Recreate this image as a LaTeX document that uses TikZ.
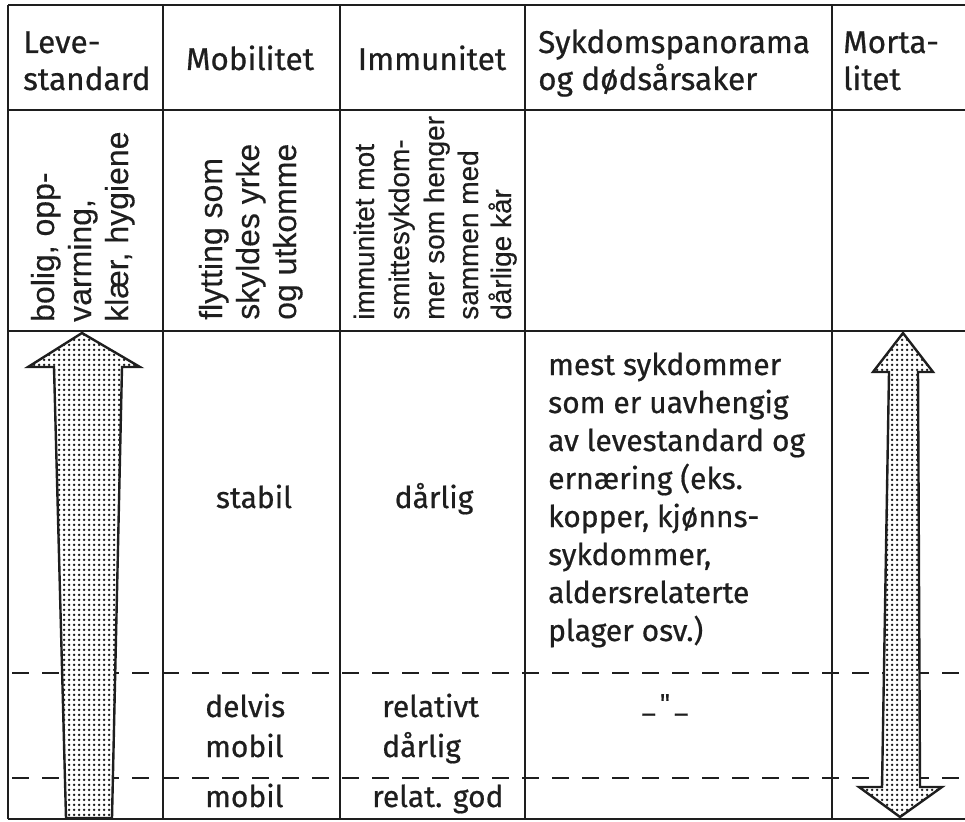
\documentclass[tikz,border=0pt]{standalone}
\usepackage{fontspec}
\setmainfont{Fira Sans}[FakeBold=0.6]
\newfontfamily\rotfont{Liberation Sans}[FakeBold=0.3]
\usetikzlibrary{patterns}
\pgfdeclarepatternformonly{stipple}{\pgfpointorigin}{\pgfpoint{4.6pt}{4.6pt}}{\pgfpoint{4.6pt}{4.6pt}}{\pgfpathcircle{\pgfpoint{2.3pt}{2.3pt}}{1.4pt}\pgfusepath{fill}}
\definecolor{ink}{HTML}{1E1E1E}
\tikzset{
  grid/.style={line width=1.6pt, draw=ink},
  heavy/.style={line width=2.6pt, draw=ink},
  dashline/.style={line width=1.6pt, draw=ink, dash pattern=on 17pt off 13pt},
  bigarrow/.style={line width=2.4pt, draw=ink, line join=miter, preaction={fill=white}, pattern=stipple, pattern color=ink},
  hd/.style={inner sep=0pt, text=ink, font=\fontsize{31.5}{37}\selectfont},
  bd/.style={inner sep=0pt, text=ink, font=\fontsize{30}{38}\selectfont},
  rt/.style={inner sep=0pt, text=ink, rotate=90, anchor=base west, font=\rotfont\fontsize{32}{37}\selectfont},
  rts/.style={inner sep=0pt, text=ink, rotate=90, anchor=base west, font=\rotfont\fontsize{28}{34}\selectfont},
}
\begin{document}
\begin{tikzpicture}[x=1pt,y=1pt]
\useasboundingbox (0,0) rectangle (965,-821);

% grid
\draw[heavy] (8,-5) -- (965,-5);
\draw[grid] (8,-110) -- (965,-110);
\draw[grid] (8,-331) -- (965,-331);
\draw[heavy] (8,-819) -- (965,-819);
\foreach \x in {8,163,340,525,832} \draw[grid] (\x,-5) -- (\x,-819);
\draw[dashline] (12,-673) -- (965,-673);
\draw[dashline] (12,-778) -- (965,-778);

% arrows
\draw[bigarrow] (82,-333) -- (140,-367) -- (122,-367) -- (112,-818) -- (66,-818) -- (54,-367) -- (28,-367) -- cycle;
\draw[bigarrow] (903,-333) -- (933,-372) -- (918,-372) -- (920,-787) -- (942,-787) -- (900,-817) -- (859,-787) -- (882,-787) -- (889,-372) -- (873,-372) -- cycle;

% header
\node[hd, anchor=base west] (h1a) at (23,-53) {Leve-};
\node[hd, anchor=base west] (h1b) at (23,-90) {standard};
\node[hd, anchor=base] (h2) at (250,-70) {Mobilitet};
\node[hd, anchor=base] (h3) at (432,-70) {Immunitet};
\node[hd, anchor=base west] (h4a) at (538,-53) {Sykdomspanorama};
\node[hd, anchor=base west] (h4b) at (538,-90) {og dødsårsaker};
\node[hd, anchor=base west] (h5a) at (843,-53) {Morta-};
\node[hd, anchor=base west] (h5b) at (843,-90) {litet};

% rotated texts
\node[rt] (r1a) at (54,-322) {bolig, opp-};
\node[rt] (r1b) at (91,-322) {varming,};
\node[rt] (r1c) at (128,-322) {klær, hygiene};
\node[rt] (r2a) at (222,-320) {flytting som};
\node[rt] (r2b) at (259,-320) {skyldes yrke};
\node[rt] (r2c) at (296,-320) {og utkomme};
\node[rts] (r3a) at (374,-320) {immunitet mot};
\node[rts] (r3b) at (409,-320) {smittesykdom-};
\node[rts] (r3c) at (444,-320) {mer som henger};
\node[rts] (r3d) at (478,-320) {sammen med};
\node[rts] (r3e) at (511,-320) {dårlige kår};

% body
\node[bd, anchor=base] (b1) at (254,-508) {stabil};
\node[bd, anchor=base] (b2) at (434,-508) {dårlig};
\foreach \t [count=\i from 0] in {mest sykdommer, som er uavhengig, av levestandard og, ernæring (eks., {kopper, kjønns-}, {sykdommer,}, aldersrelaterte, plager osv.)}
  \node[bd, anchor=base west] (s\i) at (548,{-375-38*\i}) {\t};
\node[bd, anchor=base west] (m1) at (205,-717) {delvis};
\node[bd, anchor=base west] (m2) at (205,-757) {mobil};
\node[bd, anchor=base west] (m3) at (205,-807) {mobil};
\node[bd, anchor=base west] (i1) at (382,-717) {relativt};
\node[bd, anchor=base west] (i2) at (382,-757) {dårlig};
\node[bd, anchor=base west] (i3) at (372,-807) {relat. god};
\node[inner sep=0pt, text=ink, font=\fontsize{26}{30}\selectfont, anchor=base] (ditto) at (665,-712) {\_\,\textquotedbl\,\_};
\end{tikzpicture}
\end{document}
